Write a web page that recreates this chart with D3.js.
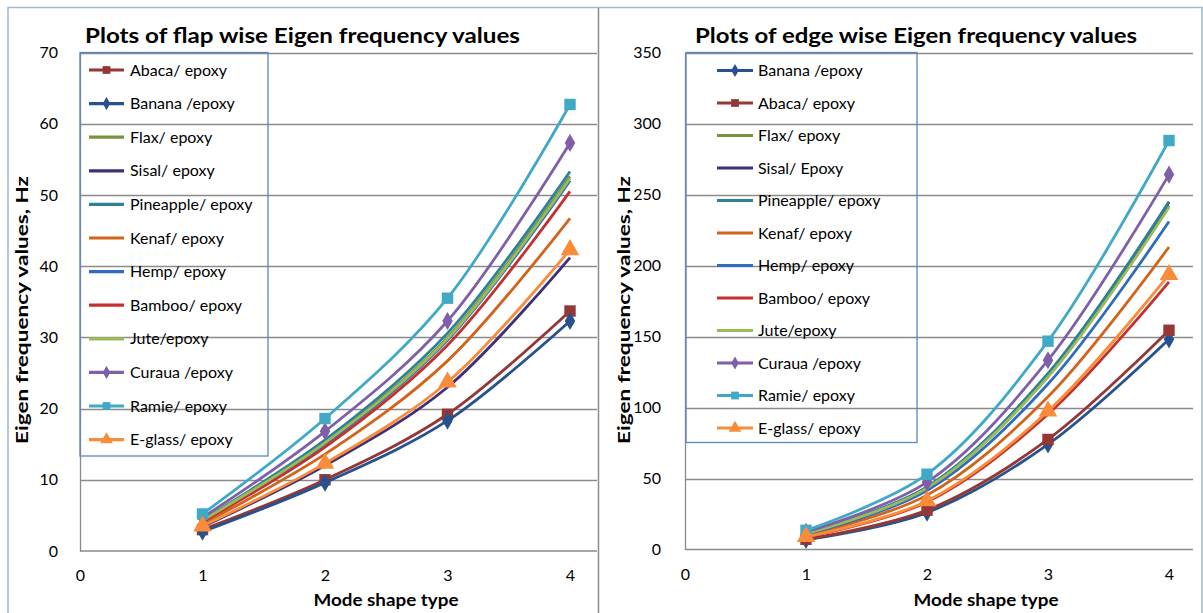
<!DOCTYPE html>
<html><head><meta charset="utf-8">
<script src="https://cdn.jsdelivr.net/npm/d3@7"></script>
<style>body{margin:0;background:#fff}svg{display:block}text{font-family:Lato,"Open Sans",sans-serif;fill:#000}</style>
</head><body><svg id="c" width="1203" height="613"></svg>
<script>
// ---------- DATA ----------
const modes = [1, 2, 3, 4];
const xTicks = [0, 1, 2, 3, 4];
const flapYTicks = [0, 10, 20, 30, 40, 50, 60, 70];
const edgeYTicks = [0, 50, 100, 150, 200, 250, 300, 350];

const flapTitle = "Plots of flap wise Eigen frequency values";
const edgeTitle = "Plots of edge wise Eigen frequency values";
const yTitle = "Eigen frequency values, Hz";
const xTitle = "Mode shape type";

const flapNames = ["Abaca/ epoxy", "Banana /epoxy", "Flax/ epoxy", "Sisal/ epoxy", "Pineapple/ epoxy", "Kenaf/ epoxy",
  "Hemp/ epoxy", "Bamboo/ epoxy", "Jute/epoxy", "Curaua /epoxy", "Ramie/ epoxy", "E-glass/ epoxy"];
const flapValues = [
  [3.0, 10.0, 19.2, 33.7],   // Abaca
  [2.7, 9.6, 18.3, 32.3],    // Banana
  [4.3, 15.3, 30.0, 52.6],   // Flax
  [3.4, 12.0, 23.0, 41.2],   // Sisal
  [4.4, 15.6, 30.6, 53.3],   // Pineapple
  [3.8, 13.6, 26.7, 46.7],   // Kenaf
  [4.2, 15.0, 29.6, 52.0],   // Hemp
  [4.1, 14.6, 28.9, 50.5],   // Bamboo
  [4.3, 15.2, 29.8, 52.3],   // Jute
  [4.7, 16.8, 32.3, 57.3],   // Curaua
  [5.2, 18.6, 35.5, 62.7],   // Ramie
  [3.5, 12.3, 23.7, 42.3]    // E-glass
];

const edgeNames = ["Banana /epoxy", "Abaca/ epoxy", "Flax/ epoxy", "Sisal/ Epoxy", "Pineapple/ epoxy", "Kenaf/ epoxy",
  "Hemp/ epoxy", "Bamboo/ epoxy", "Jute/epoxy", "Curaua /epoxy", "Ramie/ epoxy", "E-glass/ epoxy"];
const edgeValues = [
  [6.8, 26.0, 74.0, 148.0],    // Banana
  [7.2, 27.7, 77.5, 154.4],    // Abaca
  [11.3, 43.5, 122.0, 242.0],  // Flax
  [11.4, 43.8, 123.5, 244.5],  // Sisal
  [11.5, 44.0, 124.0, 245.0],  // Pineapple
  [10.0, 38.3, 107.6, 213.0],  // Kenaf
  [10.8, 41.5, 116.6, 231.0],  // Hemp
  [8.8, 33.5, 95.2, 188.5],    // Bamboo
  [11.2, 43.2, 121.5, 241.0],  // Jute
  [12.4, 47.4, 133.3, 264.0],  // Curaua
  [13.5, 53.0, 146.7, 288.0],  // Ramie
  [9.0, 34.2, 97.4, 193.5]     // E-glass
];

// ---------- STYLE ----------
const styles = {
  "Abaca":     {color: "#953735", marker: "square"},
  "Banana":    {color: "#26528F", marker: "diamond"},
  "Flax":      {color: "#77933C", marker: null},
  "Sisal":     {color: "#3F2F78", marker: null},
  "Pineapple": {color: "#2E8197", marker: null},
  "Kenaf":     {color: "#D2631A", marker: null},
  "Hemp":      {color: "#2F6CC0", marker: null},
  "Bamboo":    {color: "#C3312F", marker: null},
  "Jute":      {color: "#9BBB59", marker: null},
  "Curaua":    {color: "#7F5FA8", marker: "diamond"},
  "Ramie":     {color: "#3FA9C6", marker: "square"},
  "E-glass":   {color: "#F88C3A", marker: "triangle"}
};
const key = n => n.split(/[\s\/]/)[0];

const svg = d3.select("#c");

// frames
svg.append("rect").attr("x", 8).attr("y", 7.5).attr("width", 1194).attr("height", 610)
  .attr("fill", "none").attr("stroke", "#9fb6d2").attr("stroke-width", 1.5);
svg.append("line").attr("x1", 598.5).attr("x2", 598.5).attr("y1", 8).attr("y2", 613)
  .attr("stroke", "#8c8c8c").attr("stroke-width", 1.5);

function symbolFor(m, big) {
  if (m === "square") return d3.symbol(d3.symbolSquare, big ? 130 : 60)();
  if (m === "diamond") return d3.symbol(d3.symbolDiamond, big ? 95 : 50)();
  if (m === "triangle") return d3.symbol(d3.symbolTriangle, big ? 150 : 70)();
  return null;
}

function panel(cfg) {
  const g = svg.append("g");
  const x = d3.scaleLinear().domain([0, 4]).range([cfg.x0, cfg.x4]);
  const y = d3.scaleLinear().domain([0, cfg.yTicks[cfg.yTicks.length - 1]]).range([cfg.yBottom, cfg.yTop]);

  // gridlines
  g.append("g").selectAll("line").data(cfg.yTicks.slice(1)).join("line")
    .attr("x1", cfg.x0).attr("x2", cfg.xRight)
    .attr("y1", d => Math.round(y(d)) + 0.5).attr("y2", d => Math.round(y(d)) + 0.5)
    .attr("stroke", "#8a8a8a").attr("stroke-width", 1.3);

  // axes
  const ya = g.append("g").attr("transform", `translate(${cfg.x0},0)`)
    .call(d3.axisLeft(y).tickValues(cfg.yTicks).tickFormat(d3.format("d")).tickSize(0).tickPadding(cfg.yPad));
  ya.select(".domain").attr("stroke", "#8a8a8a").attr("stroke-width", 1.3);
  ya.selectAll("text").attr("font-size", 16).attr("font-family", "Lato");
  const xa = g.append("g").attr("transform", `translate(0,${cfg.yBottom})`)
    .call(d3.axisBottom(x).tickValues(xTicks).tickFormat(d3.format("d")).tickSize(0).tickPadding(19));
  xa.select(".domain").attr("stroke", "#8a8a8a").attr("stroke-width", 1.3).attr("d", `M${cfg.x0},0H${cfg.xRight}`);
  xa.selectAll("text").attr("font-size", 16).attr("font-family", "Lato");

  // series
  const line = d3.line().x((d, i) => x(modes[i])).y(d => y(d)).curve(d3.curveCatmullRom.alpha(0.5));
  cfg.names.forEach((n, i) => {
    const st = styles[key(n)];
    g.append("path").attr("d", line(cfg.values[i])).attr("fill", "none")
      .attr("stroke", st.color).attr("stroke-width", 2.8);
    if (st.marker) {
      g.append("g").selectAll("path").data(cfg.values[i]).join("path")
        .attr("d", symbolFor(st.marker, true))
        .attr("transform", (d, j) => `translate(${x(modes[j])},${y(d)})`)
        .attr("fill", st.color);
    }
  });

  // legend
  const L = cfg.legend;
  g.append("rect").attr("x", L.x).attr("y", L.y).attr("width", L.w).attr("height", L.h)
    .attr("fill", "none").attr("stroke", "#5b86c3").attr("stroke-width", 1.3);
  cfg.names.forEach((n, i) => {
    const st = styles[key(n)];
    const ry = L.row0 + i * L.step;
    g.append("line").attr("x1", L.lx0).attr("x2", L.lx1).attr("y1", ry).attr("y2", ry)
      .attr("stroke", st.color).attr("stroke-width", 3.2);
    if (st.marker) g.append("path").attr("d", symbolFor(st.marker, false))
      .attr("transform", `translate(${(L.lx0 + L.lx1) / 2},${ry})`).attr("fill", st.color);
    g.append("text").attr("x", L.tx).attr("y", ry).attr("dy", "0.35em")
      .attr("font-size", 16).text(n);
  });

  // titles
  g.append("text").attr("x", cfg.titleX).attr("y", 36).attr("dy", "0.35em")
    .attr("font-size", 21).attr("font-weight", "bold")
    .attr("textLength", cfg.titleLen).attr("lengthAdjust", "spacingAndGlyphs").text(cfg.title);
  g.append("text").attr("transform", `translate(${cfg.yTitleX},${cfg.yTitleY}) rotate(-90)`)
    .attr("text-anchor", "middle").attr("dy", "0.35em")
    .attr("font-size", 17).attr("font-weight", "bold")
    .attr("textLength", 268).attr("lengthAdjust", "spacingAndGlyphs").text(yTitle);
  g.append("text").attr("x", cfg.xTitleX).attr("y", 600).attr("dy", "0.35em")
    .attr("text-anchor", "middle").attr("font-size", 17).attr("font-weight", "bold")
    .attr("textLength", 145).attr("lengthAdjust", "spacingAndGlyphs").text(xTitle);
}

panel({
  names: flapNames, values: flapValues, yTicks: flapYTicks,
  x0: 80, x4: 570, xRight: 597, yTop: 52.5, yBottom: 551, yPad: 22,
  title: flapTitle, titleX: 85, titleLen: 435, yTitleX: 22, yTitleY: 310, xTitleX: 386,
  legend: {x: 80, y: 52.5, w: 188, h: 403.5, row0: 70, step: 33.6, lx0: 89, lx1: 124, tx: 130}
});
panel({
  names: edgeNames, values: edgeValues, yTicks: edgeYTicks,
  x0: 685, x4: 1169, xRight: 1193, yTop: 52.5, yBottom: 549.5, yPad: 24,
  title: edgeTitle, titleX: 695, titleLen: 442, yTitleX: 624, yTitleY: 310, xTitleX: 986,
  legend: {x: 686, y: 52.5, w: 231, h: 390, row0: 70.5, step: 32.5, lx0: 717, lx1: 753, tx: 758}
});
</script>
</body></html>
